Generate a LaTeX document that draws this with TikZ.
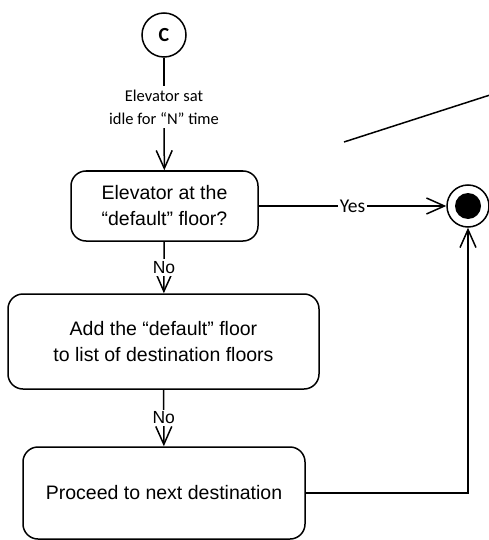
\documentclass[tikz,border=0pt]{standalone}
\usepackage{fontspec}
\setmainfont{Liberation Sans}
\newfontfamily\calfont{Carlito}
\usetikzlibrary{arrows.meta}
\begin{document}
\begin{tikzpicture}[x=1pt,y=-1pt,line width=1.5pt,
  box/.style={draw,rounded corners=15pt,align=center,inner sep=0pt,
    font=\fontsize{19.5}{26}\selectfont},
  lbl/.style={font=\calfont\fontsize{16.5}{23}\selectfont,align=center,inner sep=3pt},
  nolbl/.style={fill=white,font=\fontsize{17.5}{20}\selectfont,inner sep=2pt},
  arr/.style={-{Straight Barb[length=18pt,width=16pt]}}]
\useasboundingbox (0,0) rectangle (489,540);
\node[circle,draw,minimum size=44pt,inner sep=0pt,font=\calfont\bfseries\fontsize{20}{24}\selectfont] (c) at (164,35) {C};
\node[lbl] (l1) at (164,107) {Elevator sat\\idle for “N” time};
\node[box,minimum width=187pt,minimum height=70pt] (b1) at (164.5,206) {Elevator at the\\“default” floor?};
\node[box,minimum width=311pt,minimum height=95pt] (b2) at (163.5,341.5) {Add the “default” floor\\to list of destination floors};
\node[box,minimum width=282pt,minimum height=92pt] (b3) at (164,493) {Proceed to next destination};
\node[circle,draw,minimum size=42pt,inner sep=0pt] (end) at (468,206) {};
\fill (end.center) circle (13pt);
\coordinate (d1) at (344,142);
\coordinate (d2) at (490,95);
\draw (c) -- (l1);
\draw[arr] (l1) -- (b1);
\draw[arr] (b1) -- node[fill=white,inner sep=1.5pt,font=\calfont\fontsize{19.5}{22}\selectfont] {Yes} (end);
\draw[arr] (b1) -- node[nolbl] {No} (b2);
\draw[arr] (b2) -- node[nolbl] {No} (b3);
\draw[arr] (b3.east) -| (end.south);
\draw (d1) -- (d2);
\end{tikzpicture}
\end{document}
